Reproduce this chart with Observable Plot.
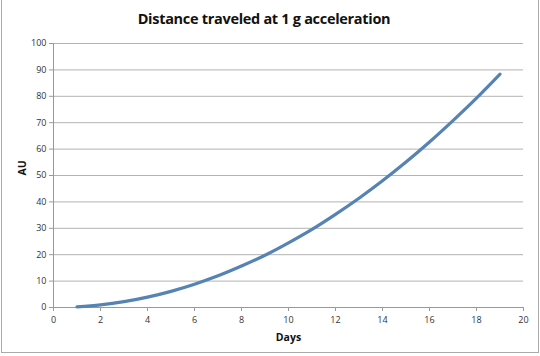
<!DOCTYPE html>
<html><head><meta charset="utf-8">
<script src="https://cdn.jsdelivr.net/npm/d3@7"></script>
<script src="https://cdn.jsdelivr.net/npm/@observablehq/plot@0.6"></script>
<style>
html,body{margin:0;padding:0;background:#fff;}
#wrap{position:relative;width:540px;height:356px;overflow:hidden;}
#title{position:absolute;top:9px;left:-6px;width:540px;text-align:center;font-family:"Open Sans",sans-serif;font-weight:700;font-size:14.5px;color:#111;letter-spacing:-0.3px;}
#border{position:absolute;left:1px;top:-2px;width:536px;height:353px;border:1px solid #aaa;pointer-events:none;}
</style></head>
<body><div id="wrap"><div id="title">Distance traveled at 1 g acceleration</div><div id="chart"></div><div id="border"></div></div>
<script>
const days = [1,2,3,4,5,6,7,8,9,10,11,12,13,14,15,16,17,18,19];
const au = [0.24,0.98,2.2,3.92,6.12,8.81,12.0,15.7,19.8,24.5,29.6,35.3,41.4,48.0,55.1,62.7,70.8,79.3,88.4];
const xTicks = [0,2,4,6,8,10,12,14,16,18,20];
const yTicks = [0,10,20,30,40,50,60,70,80,90,100];
const data = days.map((d,i)=>({d, v: au[i]}));

const chart = Plot.plot({
  width: 540, height: 356,
  marginLeft: 53, marginRight: 17, marginTop: 43, marginBottom: 49,
  style: {fontFamily: "'Open Sans', sans-serif", fontSize: "9px", color: "#333", background: "#fff"},
  x: {domain: [0,20], ticks: xTicks, label: null},
  y: {domain: [0,100], ticks: yTicks, label: null},
  marks: [
    Plot.gridY(yTicks, {stroke: "#b3b3b3", strokeOpacity: 1, strokeWidth: 1}),
    Plot.axisY(yTicks, {tickSize: 4, tickPadding: 3, stroke: "#999", fill: "#333"}),
    Plot.axisX(xTicks, {tickSize: 4, tickPadding: 5, stroke: "#999", fill: "#333"}),
    Plot.ruleX([0], {stroke: "#999"}),
    Plot.ruleY([0], {stroke: "#999"}),
    Plot.line(data, {x: "d", y: "v", stroke: "#5583b3", strokeWidth: 3.2, curve: "catmull-rom"}),
    Plot.text(["Days"], {frameAnchor: "bottom", dy: 33, text: d => d, fontWeight: 700, fontSize: 10.5, fill: "#111"}),
    Plot.text(["AU"], {frameAnchor: "left", dx: -31, rotate: -90, text: d => d, fontWeight: 700, fontSize: 10.5, fill: "#111"})
  ]
});
document.getElementById("chart").appendChild(chart);
</script></body></html>
